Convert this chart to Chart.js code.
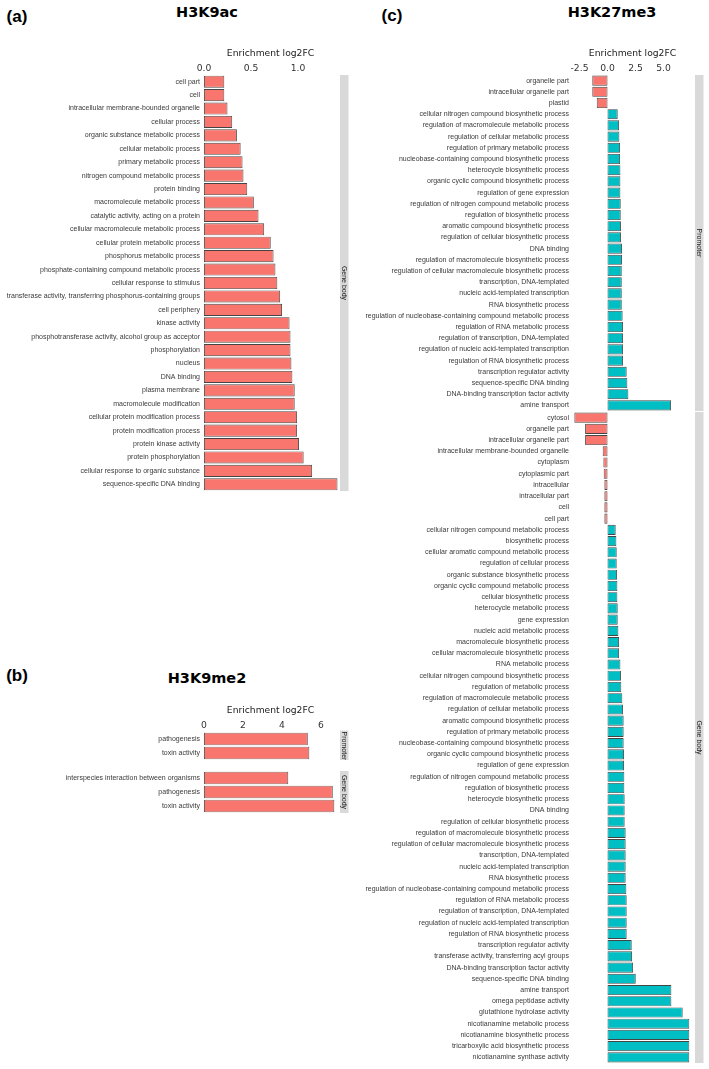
<!DOCTYPE html>
<html lang="en">
<head>
    <meta charset="UTF-8">
    <title>Enrichment log2FC</title>
    <script src="https://cdn.jsdelivr.net/npm/chart.js@4.4.1/dist/chart.umd.min.js"></script>
    <style>
        body { margin: 0; background: #ffffff; }
        #page { position: relative; width: 709px; height: 1069px; overflow: hidden; }
        #page canvas { position: absolute; }
        .tag, .title { position: absolute; color: #000; white-space: nowrap; line-height: 1; transform: translate(-50%, -50%); }
        .tag { font: bold 17px "Liberation Sans", Arial, sans-serif; }
        .title { font: bold 14.5px "DejaVu Sans", Verdana, sans-serif; }
    </style>
</head>
<body>
<div id="page">
    <div class="tag" style="left:17px; top:17px;">(a)</div>
    <div class="title" style="left:207px; top:12px;">H3K9ac</div>
    <div class="tag" style="left:17px; top:676px;">(b)</div>
    <div class="title" style="left:207px; top:678px;">H3K9me2</div>
    <div class="tag" style="left:392px; top:16px;">(c)</div>
    <div class="title" style="left:612px; top:12px;">H3K27me3</div>
</div>

<script>
    // ---- data ----
    var aLabels = ['cell part', 'cell', 'intracellular membrane-bounded organelle', 'cellular process',
        'organic substance metabolic process', 'cellular metabolic process', 'primary metabolic process',
        'nitrogen compound metabolic process', 'protein binding', 'macromolecule metabolic process',
        'catalytic activity, acting on a protein', 'cellular macromolecule metabolic process',
        'cellular protein metabolic process', 'phosphorus metabolic process',
        'phosphate-containing compound metabolic process', 'cellular response to stimulus',
        'transferase activity, transferring phosphorus-containing groups', 'cell periphery', 'kinase activity',
        'phosphotransferase activity, alcohol group as acceptor', 'phosphorylation', 'nucleus', 'DNA binding',
        'plasma membrane', 'macromolecule modification', 'cellular protein modification process',
        'protein modification process', 'protein kinase activity', 'protein phosphorylation',
        'cellular response to organic substance', 'sequence-specific DNA binding'];
    var aValues = [0.216, 0.216, 0.25, 0.30, 0.35, 0.39, 0.41, 0.42, 0.46, 0.53, 0.58, 0.64, 0.71, 0.74, 0.76,
        0.78, 0.81, 0.83, 0.91, 0.92, 0.92, 0.93, 0.94, 0.965, 0.965, 0.99, 0.99, 1.01, 1.06, 1.15, 1.42];
    var aTicks = [0, 0.5, 1.0];

    var bPromLabels = ['pathogenesis', 'toxin activity'];
    var bPromValues = [5.32, 5.40];
    var bGeneLabels = ['interspecies interaction between organisms', 'pathogenesis', 'toxin activity'];
    var bGeneValues = [4.32, 6.60, 6.68];
    var bTicks = [0, 2, 4, 6];

    var cPromLabels = ['organelle part', 'intracellular organelle part', 'plastid',
        'cellular nitrogen compound biosynthetic process', 'regulation of macromolecule metabolic process',
        'regulation of cellular metabolic process', 'regulation of primary metabolic process',
        'nucleobase-containing compound biosynthetic process', 'heterocycle biosynthetic process',
        'organic cyclic compound biosynthetic process', 'regulation of gene expression',
        'regulation of nitrogen compound metabolic process', 'regulation of biosynthetic process',
        'aromatic compound biosynthetic process', 'regulation of cellular biosynthetic process', 'DNA binding',
        'regulation of macromolecule biosynthetic process', 'regulation of cellular macromolecule biosynthetic process',
        'transcription, DNA-templated', 'nucleic acid-templated transcription', 'RNA biosynthetic process',
        'regulation of nucleobase-containing compound metabolic process', 'regulation of RNA metabolic process',
        'regulation of transcription, DNA-templated', 'regulation of nucleic acid-templated transcription',
        'regulation of RNA biosynthetic process', 'transcription regulator activity',
        'sequence-specific DNA binding', 'DNA-binding transcription factor activity', 'amine transport'];
    var cPromValues = [-1.36, -1.36, -0.96, 0.91, 1.03, 1.06, 1.12, 1.12, 1.15, 1.15, 1.15, 1.18, 1.18, 1.20,
        1.20, 1.29, 1.29, 1.27, 1.27, 1.27, 1.27, 1.35, 1.38, 1.38, 1.38, 1.38, 1.71, 1.77, 1.86, 5.67];

    var cGeneLabels = ['cytosol', 'organelle part', 'intracellular organelle part',
        'intracellular membrane-bounded organelle', 'cytoplasm', 'cytoplasmic part', 'intracellular',
        'intracellular part', 'cell', 'cell part', 'cellular nitrogen compound metabolic process',
        'biosynthetic process', 'cellular aromatic compound metabolic process', 'regulation of cellular process',
        'organic substance biosynthetic process', 'organic cyclic compound metabolic process',
        'cellular biosynthetic process', 'heterocycle metabolic process', 'gene expression',
        'nucleic acid metabolic process', 'macromolecule biosynthetic process',
        'cellular macromolecule biosynthetic process', 'RNA metabolic process',
        'cellular nitrogen compound biosynthetic process', 'regulation of metabolic process',
        'regulation of macromolecule metabolic process', 'regulation of cellular metabolic process',
        'aromatic compound biosynthetic process', 'regulation of primary metabolic process',
        'nucleobase-containing compound biosynthetic process', 'organic cyclic compound biosynthetic process',
        'regulation of gene expression', 'regulation of nitrogen compound metabolic process',
        'regulation of biosynthetic process', 'heterocycle biosynthetic process', 'DNA binding',
        'regulation of cellular biosynthetic process', 'regulation of macromolecule biosynthetic process',
        'regulation of cellular macromolecule biosynthetic process', 'transcription, DNA-templated',
        'nucleic acid-templated transcription', 'RNA biosynthetic process',
        'regulation of nucleobase-containing compound metabolic process', 'regulation of RNA metabolic process',
        'regulation of transcription, DNA-templated', 'regulation of nucleic acid-templated transcription',
        'regulation of RNA biosynthetic process', 'transcription regulator activity',
        'transferase activity, transferring acyl groups', 'DNA-binding transcription factor activity',
        'sequence-specific DNA binding', 'amine transport', 'omega peptidase activity',
        'glutathione hydrolase activity', 'nicotianamine metabolic process', 'nicotianamine biosynthetic process',
        'tricarboxylic acid biosynthetic process', 'nicotianamine synthase activity'];
    var cGeneValues = [-2.96, -2.0, -2.0, -0.43, -0.37, -0.34, -0.28, -0.28, -0.28, -0.28,
        0.73, 0.79, 0.82, 0.82, 0.85, 0.88, 0.88, 0.91, 0.91, 0.97, 1.03, 1.03, 1.15, 1.20, 1.23,
        1.32, 1.38, 1.44, 1.44, 1.44, 1.47, 1.47, 1.50, 1.50, 1.53, 1.53, 1.53, 1.62, 1.62, 1.62,
        1.62, 1.62, 1.68, 1.71, 1.71, 1.71, 1.71, 2.16, 2.19, 2.28, 2.52, 5.70, 5.70, 6.71,
        7.30, 7.30, 7.30, 7.30];
    var cTicks = [-2.5, 0, 2.5, 5.0];

    var RED = '#F8766D';
    var TEAL = '#00BFC4';

    // grey facet strip on the right of each panel
    var stripPlugin = {
        id: 'strip',
        afterDraw: function(chart, args, opts) {
            if (!opts.text) return;
            var ctx = chart.ctx, area = chart.chartArea;
            var x = area.right + 1, w = 8.5;
            var top = area.top - (opts.pad || 0), bottom = area.bottom + (opts.pad || 0);
            ctx.save();
            ctx.fillStyle = '#d9d9d9';
            ctx.fillRect(x, top, w, bottom - top);
            ctx.translate(x + w / 2, (top + bottom) / 2);
            ctx.rotate(Math.PI / 2);
            ctx.fillStyle = '#1a1a1a';
            ctx.font = '7px "Liberation Sans", Arial, sans-serif';
            ctx.textAlign = 'center';
            ctx.textBaseline = 'middle';
            ctx.fillText(opts.text, 0, 0);
            ctx.restore();
        }
    };

    // one facet = one chart; area* give the plot area in page pixels
    function facet(p) {
        var axisH = p.showAxis ? 40 : 0;
        var top = p.areaTop - axisH;
        var canvas = document.createElement('canvas');
        canvas.width = p.colWidth;
        canvas.height = Math.round(p.areaBottom - top);
        canvas.style.left = p.colLeft + 'px';
        canvas.style.top = top + 'px';
        document.getElementById('page').appendChild(canvas);

        new Chart(canvas.getContext('2d'), {
            type: 'bar',
            data: {
                labels: p.labels,
                datasets: [{
                    data: p.values,
                    backgroundColor: p.colors,
                    borderColor: '#444444',
                    borderWidth: 0.9,
                    borderSkipped: false,
                    barPercentage: 0.9,
                    categoryPercentage: 1.0
                }]
            },
            options: {
                indexAxis: 'y',
                responsive: false,
                animation: false,
                layout: { padding: { left: 0, top: 0, bottom: 0, right: p.colLeft + p.colWidth - p.areaRight } },
                plugins: {
                    legend: { display: false },
                    tooltip: { enabled: false },
                    strip: { text: p.strip, pad: p.stripPad || 0 }
                },
                scales: {
                    x: {
                        type: 'linear',
                        position: 'top',
                        display: p.showAxis,
                        min: p.min,
                        max: p.max,
                        grid: { display: false, drawTicks: false },
                        border: { display: false },
                        afterBuildTicks: function(scale) {
                            scale.ticks = p.ticks.map(function(v) { return { value: v }; });
                        },
                        afterFit: function(scale) {
                            scale.height = axisH;
                            scale.paddingLeft = 0;
                            scale.paddingRight = 0;
                        },
                        ticks: {
                            padding: 1,
                            color: '#333333',
                            font: { family: '"DejaVu Sans", Verdana, sans-serif', size: 9.2 },
                            callback: function(v) { return p.fmt(v); }
                        },
                        title: {
                            display: true,
                            text: 'Enrichment log2FC',
                            color: '#1a1a1a',
                            padding: { top: 13, bottom: 0 },
                            font: { family: '"DejaVu Sans", Verdana, sans-serif', size: 9.2 }
                        }
                    },
                    y: {
                        type: 'category',
                        offset: true,
                        grid: { display: false, drawTicks: false },
                        border: { display: false },
                        afterFit: function(scale) {
                            scale.width = p.yWidth;
                            scale.paddingTop = 0;
                            scale.paddingBottom = 0;
                        },
                        ticks: {
                            autoSkip: false,
                            padding: 2,
                            color: '#3a3a3a',
                            font: { family: '"Liberation Sans", Arial, sans-serif', size: 7 }
                        }
                    }
                }
            },
            plugins: [stripPlugin]
        });
    }

    function fmt1(v) { return v.toFixed(1); }
    function fmt0(v) { return String(v); }
    function signColors(vals) { return vals.map(function(v) { return v < 0 ? RED : TEAL; }); }
    function allRed(vals) { return vals.map(function() { return RED; }); }

    // (a) H3K9ac
    facet({ colLeft: 0, colWidth: 360, yWidth: 202, areaRight: 339, areaTop: 74.5, areaBottom: 490.5,
        labels: aLabels, values: aValues, colors: allRed(aValues), min: -0.021, max: 1.436,
        ticks: aTicks, fmt: fmt1, showAxis: true, strip: 'Gene body' });

    // (b) H3K9me2
    facet({ colLeft: 0, colWidth: 360, yWidth: 202, areaRight: 339, areaTop: 732, areaBottom: 760,
        labels: bPromLabels, values: bPromValues, colors: allRed(bPromValues), min: -0.1, max: 6.92,
        ticks: bTicks, fmt: fmt0, showAxis: true, strip: 'Promoter', stripPad: 1.5 });
    facet({ colLeft: 0, colWidth: 360, yWidth: 202, areaRight: 339, areaTop: 771, areaBottom: 813,
        labels: bGeneLabels, values: bGeneValues, colors: allRed(bGeneValues), min: -0.1, max: 6.92,
        ticks: bTicks, fmt: fmt0, showAxis: false, strip: 'Gene body', stripPad: 2 });

    // (c) H3K27me3
    facet({ colLeft: 360, colWidth: 349, yWidth: 211, areaRight: 694, areaTop: 74.5, areaBottom: 410.5,
        labels: cPromLabels, values: cPromValues, colors: signColors(cPromValues), min: -3.26, max: 7.72,
        ticks: cTicks, fmt: fmt1, showAxis: true, strip: 'Promoter' });
    facet({ colLeft: 360, colWidth: 349, yWidth: 211, areaRight: 694, areaTop: 412, areaBottom: 1063,
        labels: cGeneLabels, values: cGeneValues, colors: signColors(cGeneValues), min: -3.26, max: 7.72,
        ticks: cTicks, fmt: fmt1, showAxis: false, strip: 'Gene body' });
</script>
</body>
</html>
